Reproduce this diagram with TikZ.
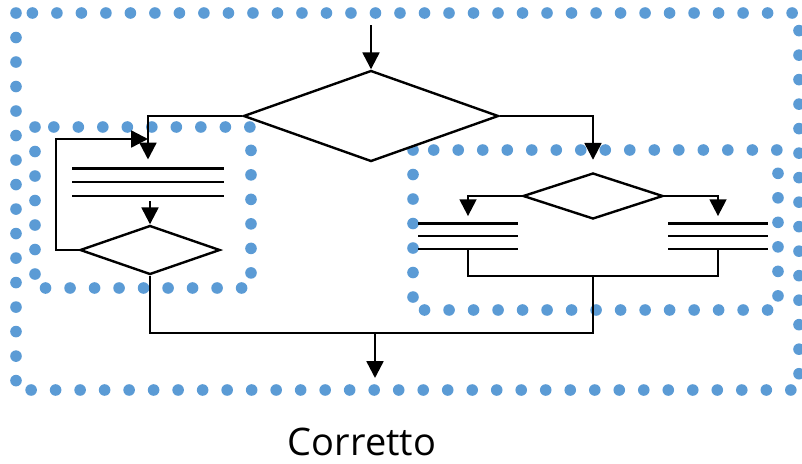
\documentclass[tikz,border=0pt]{standalone}
\usepackage{fontspec}
\setmainfont{Open Sans}
\usepackage{tikz}
\usetikzlibrary{backgrounds}
\usetikzlibrary{shapes.geometric}
\usetikzlibrary{arrows.meta}
\definecolor{dotblue}{RGB}{91,155,213}

\begin{document}
\begin{tikzpicture}[
            x = 0.025cm, y = -0.025cm, % one unit is one pixel of the sketch
            > = {Triangle[length=4.2mm,width=4.2mm]}, % arrow head style
            line width = 0.06cm
        ]

        \tikzstyle{every node}=[inner sep=0pt]
        \tikzstyle{test}=[diamond, draw, line width=0.06cm, fill=white]
        \tikzstyle{instr}=[rectangle, draw=none]
        \tikzstyle{dots}=[dotblue, line width=0.29cm, line cap=round,
            dash pattern=on 0pt off 0.6125cm]

        \useasboundingbox (0,0) rectangle (802,463);

	% main test
        \coordinate (start) at (371,25);
        \node[test, minimum width=6.375cm, minimum height=2.275cm] (D0) at (371,116) {};
        \draw[->] (start) -- (D0.north);

	% left part: loop
        \node[instr, minimum width=3.725cm, minimum height=0.625cm] (B1) at (148,182) {};
        \draw (B1.north west) -- (B1.north east);
        \draw (B1.west) -- (B1.east);
        \draw (B1.south west) -- (B1.south east);
        \node[test, minimum width=3.5cm, minimum height=1.225cm] (D1) at (150,250) {};
        \coordinate (loop) at (56,139);

        \draw[->, shorten >=0.22cm] (D0.west) -| (B1.north);
        \draw[->, shorten <=0.14cm] (B1.south -| D1.north) -- (D1.north);
        \draw[->] (D1.west) -| (loop) -- (loop -| B1);

	% right part: choice
        \node[test, minimum width=3.5cm, minimum height=1.15cm] (D2) at (593,196) {};
        \node[instr, minimum width=2.425cm, minimum height=0.575cm] (B2) at (468,236) {};
        \node[instr, minimum width=2.425cm, minimum height=0.575cm] (B3) at (718,236) {};
        \foreach \b in {B2,B3} {
            \draw (\b.north west) -- (\b.north east);
            \draw (\b.west) -- (\b.east);
            \draw (\b.south west) -- (\b.south east);
        }
        \coordinate (merge) at (593,276);

        \draw[->, shorten >=0.3cm] (D0.east) -| (D2.north);
        \draw[->, shorten >=0.18cm] (D2.west) -| (B2.north);
        \draw[->, shorten >=0.18cm] (D2.east) -| (B3.north);
        \draw (B2.south) |- (merge) -| (B3.south);

	% exit
        \coordinate (exit) at (375,333);
        \coordinate (end) at (375,378);
        \draw (D1.south) |- (merge |- exit) -- (merge);
        \draw[->] (exit) -- (end);

        \node[anchor=base, text depth=0pt, font=\fontsize{27}{30}\selectfont] (label) at (362,455) {Corretto};

          \begin{scope}[on background layer]
   	  \draw[dots] (16,13) rectangle (799,390);
   	  \draw[dots] (35,127) rectangle (251,288);
   	  \draw[dots] (413,150) rectangle (778,310);
          \end{scope}

  \end{tikzpicture}
\end{document}
